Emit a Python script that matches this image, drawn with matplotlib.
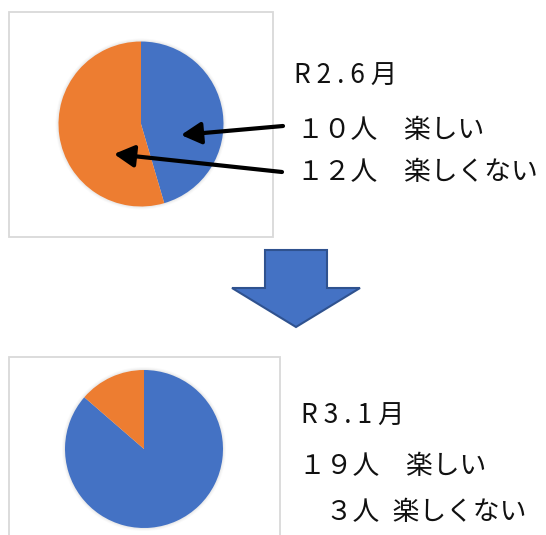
import numpy as np
import matplotlib.pyplot as plt
from matplotlib.patches import Rectangle, Polygon, Circle

plt.rcParams['font.family'] = ['Noto Sans CJK JP', 'DejaVu Sans']

##Data
labels = ['楽しい', '楽しくない']
counts_r2 = [10, 12]   # R2.6月
counts_r3 = [19, 3]    # R3.1月
colors = ['#4472C4', '#ED7D31']

title_r2 = 'R 2 . 6 月'
lines_r2 = ['１０人　楽しい', '１２人　楽しくない']
title_r3 = 'R 3 . 1 月'
lines_r3 = ['１９人　楽しい', '　３人\u2002楽しくない']

##Canvas in pixel units (y measured from top)
W, H = 546, 535
fig = plt.figure(figsize=(W/100, H/100), dpi=100)
ax = fig.add_axes([0, 0, 1, 1])

def Y(y):
    return H - y

def draw_pie(cx, cy, r, counts):
    # soft shadow round the pie
    for k, a in zip([3.0, 2.0, 1.0], [0.04, 0.05, 0.07]):
        ax.add_patch(Circle((cx, Y(cy)), r + k, color='gray', alpha=a, lw=0, zorder=1))
    ax.pie(counts, colors=colors, startangle=90, counterclock=False,
           center=(cx, Y(cy)), radius=r, wedgeprops=dict(linewidth=0, zorder=2))

##Boxes round the charts
ax.add_patch(Rectangle((9, Y(237)), 264, 225, fill=False, ec='#d9d9d9', lw=1.3, zorder=0))
ax.add_patch(Rectangle((9, Y(545)), 271, 188, fill=False, ec='#d9d9d9', lw=1.3, zorder=0))

draw_pie(141, 124, 82.5, counts_r2)
draw_pie(144, 449, 79, counts_r3)

##Arrows pointing into the first pie
for tip, start in [((181, 135), (283, 126)), ((114, 154), (282, 172))]:
    ax.annotate('', xy=(tip[0], Y(tip[1])), xytext=(start[0], Y(start[1])),
                arrowprops=dict(arrowstyle='-|>,head_length=0.55,head_width=0.3',
                                lw=3, color='black', mutation_scale=22,
                                shrinkA=0, shrinkB=0), zorder=5)

##Block arrow between the two charts
block = [(265, 250), (327, 250), (327, 288), (360, 288), (296, 327),
         (232, 288), (265, 288)]
ax.add_patch(Polygon([(x, Y(y)) for x, y in block], closed=True,
                     fc='#4472C4', ec='#2F528F', lw=1.5, zorder=3))

##Texts
fs = 19.3
tc = '#111111'
ax.text(294, Y(76), title_r2, fontsize=19, va='center', ha='left', color=tc)
ax.text(297, Y(131), lines_r2[0], fontsize=fs, va='center', ha='left', color=tc)
ax.text(297, Y(173), lines_r2[1], fontsize=fs, va='center', ha='left', color=tc)

ax.text(301, Y(416), title_r3, fontsize=19, va='center', ha='left', color=tc)
ax.text(299, Y(467), lines_r3[0], fontsize=fs, va='center', ha='left', color=tc)
ax.text(299, Y(512), lines_r3[1], fontsize=fs, va='center', ha='left', color=tc)

ax.set_xlim(0, W)
ax.set_ylim(0, H)
ax.set_aspect('equal')
ax.axis('off')

fig.savefig('out.png', dpi=100)
